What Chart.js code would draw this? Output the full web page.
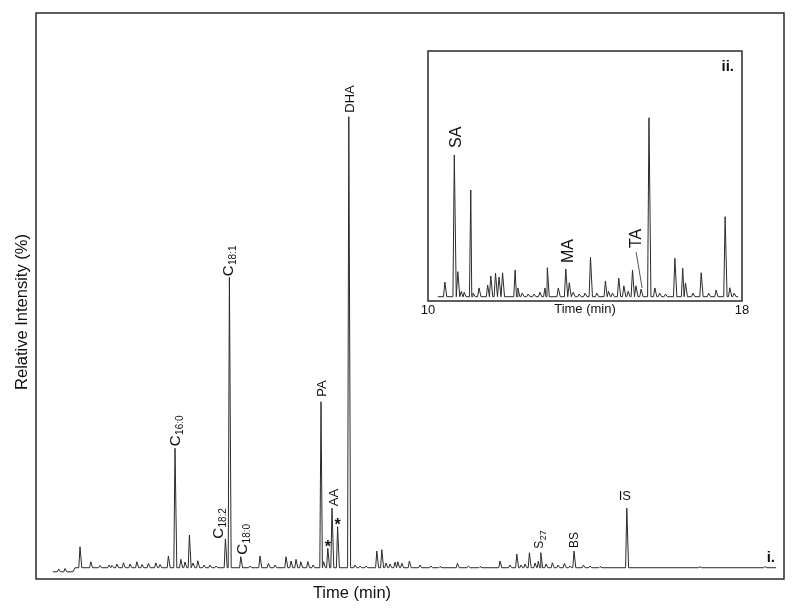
<!DOCTYPE html>
<html>
<head>
<meta charset="utf-8">
<script src="https://cdn.jsdelivr.net/npm/chart.js@4.4.0/dist/chart.umd.min.js"></script>
<style>
    html, body { margin: 0; padding: 0; background: #fff; }
    #wrap { position: relative; width: 794px; height: 609px; }
    #main { position: absolute; left: 0; top: 0; }
    #inset { position: absolute; left: 410px; top: 40px; }
</style>
</head>
<body>
<div id="wrap">
    <canvas id="main" width="794" height="609"></canvas>
    <canvas id="inset" width="350" height="280"></canvas>
</div>
<script>
// i. full chromatogram: apex retention time (min) and relative intensity (%)
const mainPeakTime = [
    1.13, 1.45, 2.2, 2.74, 3.2, 3.65, 3.8, 4.04, 4.37, 4.7,
    5.04, 5.3, 5.62, 5.99, 6.2, 6.62, 6.95, 7.24, 7.45, 7.67,
    7.85, 8.09, 8.4, 8.7, 9.0, 9.47, 9.67, 10.24, 10.7, 11.2,
    11.62, 11.95, 12.5, 12.75, 13.0, 13.24, 13.59, 13.85, 14.25, 14.38,
    14.59, 14.8, 15.08, 15.64, 15.95, 16.2, 16.5, 17.04, 17.29, 17.5,
    17.7, 17.95, 18.09, 18.29, 18.67, 19.2, 19.74, 20.2, 21.07, 21.62,
    22.2, 23.2, 23.7, 24.04, 24.25, 24.45, 24.67, 24.95, 25.12, 25.24,
    25.5, 25.82, 26.1, 26.42, 26.7, 26.9, 27.37, 27.7, 28.2, 29.54,
    33.2, 36.45
];
const mainPeakHeight = [
    -0.29, -0.18, 4.66, 1.33, 0.49, 0.6, 0.49, 0.82, 1.1, 0.82,
    1.33, 0.71, 0.98, 1.1, 0.71, 2.6, 26.5, 1.86, 1.26, 7.25,
    1.04, 1.55, 0.6, 0.6, 0.38, 6.4, 64.4, 2.44, 0.38, 2.6,
    0.98, 0.6, 2.44, 1.49, 1.86, 1.33, 1.37, 0.6, 36.8, 1.33,
    4.3, 13.2, 9.1, 100, 0.6, 0.38, 0.38, 3.7, 4.0, 1.04,
    0.82, 1.26, 1.33, 0.98, 1.49, 0.6, 0.38, 0.27, 0.98, 0.38,
    0.27, 1.49, 0.6, 3.04, 0.6, 0.82, 3.33, 1.04, 1.49, 3.33,
    0.82, 1.1, 0.6, 0.98, 0.38, 3.7, 0.6, 0.38, 0.27, 13.2,
    0.2, 0.3
];
// baseline level, valid from each time onwards
const mainBaseTime = [0.84, 1.85, 1.95, 37.0];
const mainBaseLevel = [-0.9, -0.9, 0, 0];

const mainLabelText = ['C', 'C', 'C', 'C', 'PA', 'AA', '*', '*', 'DHA', 'S', 'BS', 'IS'];
const mainLabelSub = ['16:0', '18:1', '18:2', '18:0', '', '', '', '', '', '27', '', ''];
const mainLabelTime = [6.95, 9.67, 9.47, 10.24, 14.25, 14.8, 14.59, 15.08, 15.64, 25.24, 26.9, 29.54];

// ii. inset chromatogram, 10 - 18 min
const insetPeakTime = [
    10.43, 10.67, 10.76, 10.85, 10.92, 11.09, 11.15, 11.30, 11.52, 11.60,
    11.72, 11.81, 11.90, 12.22, 12.29, 12.4, 12.55, 12.7, 12.85, 12.98,
    13.04, 13.32, 13.51, 13.60, 13.7, 13.85, 14.0, 14.14, 14.3, 14.52,
    14.6, 14.7, 14.86, 14.99, 15.1, 15.21, 15.30, 15.43, 15.63, 15.78,
    15.9, 16.05, 16.29, 16.49, 16.56, 16.75, 16.96, 17.15, 17.34, 17.57,
    17.69, 17.8
];
const insetPeakHeight = [
    8.2, 79.2, 14.0, 3, 2.5, 59.6, 2, 4.9, 6.5, 11.6,
    13.2, 11.0, 13.4, 14.9, 4.9, 2, 1.5, 1.5, 2.5, 4.9,
    16.2, 4.9, 15.5, 7.8, 2.5, 1.5, 2, 22.0, 2, 8.8,
    3, 2, 10.4, 6.1, 3, 14.9, 6.1, 4.3, 100, 4.9,
    2, 1.5, 21.5, 15.9, 7.7, 2, 13.4, 2, 3.7, 44.7,
    5.0, 2
];
const insetBaseTime = [10.25, 17.9];
const insetBaseLevel = [0, 0];

const insetLabelText = ['SA', 'MA', 'TA'];
const insetLabelTime = [10.67, 13.51, 15.43];
const insetTicks = [10, 18];

// label layout (px), same order as the label arrays
const mainLabelStyle = [
    {size: 15, sub: 10, dx: 0, gap: 2},
    {size: 15, sub: 10, dx: -2, gap: 1},
    {size: 15, sub: 10, dx: -8, gap: 0},
    {size: 15, sub: 10, dx: 1, gap: 2},
    {size: 13, dx: 0, gap: 5},
    {size: 13, dx: 1, gap: 2},
    {size: 16, dx: 0, gap: 5, star: true},
    {size: 16, dx: 0, gap: 5.5, star: true},
    {size: 13, dx: 1, gap: 4},
    {size: 12, sub: 9, dx: -1.7, gap: 4},
    {size: 12, dx: 0, gap: 3},
    {size: 13, dx: -2, gap: 8.3, flat: true},
];
const insetLabelStyle = [
    {size: 16, dx: 0.5, gap: 7},
    {size: 16, dx: 1, gap: 6},
    {size: 16, dx: -6, gap: 41, leader: true},
];

const FONT = '"Liberation Sans", Arial, Helvetica, sans-serif';
const INK = '#111';
const LINE = '#2a2a2a';

function baseAt(times, levels, t) {
    let lvl = levels[0];
    for (let i = 0; i < times.length; i++) {
        if (times[i] <= t) lvl = levels[i];
    }
    return lvl;
}

function buildTrace(peakT, peakH, baseT, baseL, wl, wr) {
    const pts = baseT.map((t, i) => ({x: t, y: baseL[i]}));
    peakT.forEach((t, i) => {
        const b = baseAt(baseT, baseL, t);
        pts.push({x: t - wl, y: b}, {x: t, y: peakH[i]}, {x: t + wr, y: b});
    });
    return pts.sort((a, b) => a.x - b.x);
}

function heightAt(peakT, peakH, t) {
    let best = 0;
    peakT.forEach((p, i) => {
        if (Math.abs(p - t) < Math.abs(peakT[best] - t)) best = i;
    });
    return peakH[best];
}

function drawLabel(ctx, px, py, text, sub, st) {
    const top = py - st.gap;
    ctx.fillStyle = INK;
    ctx.font = `${st.size}px ${FONT}`;
    if (st.star) {
        ctx.font = `bold ${st.size}px ${FONT}`;
        const m = ctx.measureText('*');
        ctx.textAlign = 'center';
        ctx.textBaseline = 'alphabetic';
        ctx.fillText('*', px + st.dx, top + (m.actualBoundingBoxAscent - m.actualBoundingBoxDescent) / 2);
        return;
    }
    if (st.flat) {
        ctx.textAlign = 'center';
        ctx.textBaseline = 'alphabetic';
        ctx.fillText(text, px + st.dx, top);
        return;
    }
    const cap = st.size * 0.72;
    ctx.save();
    ctx.translate(px + st.dx, top);
    ctx.rotate(-Math.PI / 2);
    ctx.textAlign = 'left';
    ctx.textBaseline = 'alphabetic';
    ctx.fillText(text, 0, cap / 2);
    if (sub) {
        const w = ctx.measureText(text).width;
        ctx.font = `${st.sub}px ${FONT}`;
        ctx.fillText(sub, w + 0.5, cap / 2 + 3);
    }
    ctx.restore();
    if (st.leader) {
        ctx.save();
        ctx.strokeStyle = LINE;
        ctx.lineWidth = 0.8;
        ctx.beginPath();
        ctx.moveTo(px + st.dx + 1, top + 4);
        ctx.lineTo(px + 1, py - 1);
        ctx.stroke();
        ctx.restore();
    }
}

function annotations(cfg) {
    return {
        id: 'annotations',
        afterDatasetsDraw(chart) {
            const {ctx, chartArea, scales} = chart;
            ctx.save();
            ctx.strokeStyle = LINE;
            ctx.lineWidth = 1.5;
            ctx.strokeRect(chartArea.left, chartArea.top, chartArea.right - chartArea.left, chartArea.bottom - chartArea.top);

            cfg.texts.forEach((text, i) => {
                const t = cfg.times[i];
                const h = heightAt(cfg.peakT, cfg.peakH, t);
                drawLabel(ctx, scales.x.getPixelForValue(t), scales.y.getPixelForValue(h),
                    text, cfg.subs ? cfg.subs[i] : '', cfg.styles[i]);
            });

            ctx.fillStyle = INK;
            ctx.font = `bold 15px ${FONT}`;
            ctx.textAlign = 'right';
            ctx.textBaseline = 'alphabetic';
            ctx.fillText(cfg.panel, chartArea.right - cfg.panelDx, chartArea.top + cfg.panelDy);
            if (cfg.draw) cfg.draw(chart);
            ctx.restore();
        }
    };
}

const mainTrace = buildTrace(mainPeakTime, mainPeakHeight, mainBaseTime, mainBaseLevel, 0.06, 0.09);
const insetTrace = buildTrace(insetPeakTime, insetPeakHeight, insetBaseTime, insetBaseLevel, 0.035, 0.05);

new Chart(document.getElementById('main'), {
    type: 'line',
    data: {
        datasets: [{
            data: mainTrace,
            borderColor: LINE,
            borderWidth: 1,
            pointRadius: 0,
            tension: 0,
            fill: false,
        }]
    },
    options: {
        responsive: false,
        animation: false,
        layout: {padding: {left: 36, top: 13, right: 10, bottom: 30}},
        plugins: {legend: {display: false}, tooltip: {enabled: false}},
        scales: {
            x: {type: 'linear', display: false, min: 0, max: 37.4},
            y: {type: 'linear', display: false, min: -2.5, max: 123},
        },
    },
    plugins: [annotations({
        texts: mainLabelText, subs: mainLabelSub, times: mainLabelTime, styles: mainLabelStyle,
        peakT: mainPeakTime, peakH: mainPeakHeight,
        panel: 'i.', panelDx: 9, panelDy: 562 - 579 + 566,
        draw(chart) {
            const {ctx, chartArea} = chart;
            ctx.fillStyle = INK;
            ctx.font = `16.5px ${FONT}`;
            ctx.textAlign = 'center';
            ctx.textBaseline = 'middle';
            ctx.fillText('Time (min)', chartArea.left + 316, chartArea.bottom + 14);
            ctx.save();
            ctx.translate(chartArea.left - 14, chartArea.top + 299);
            ctx.rotate(-Math.PI / 2);
            ctx.fillText('Relative Intensity (%)', 0, 0);
            ctx.restore();
        }
    })]
});

new Chart(document.getElementById('inset'), {
    type: 'line',
    data: {
        datasets: [{
            data: insetTrace,
            borderColor: LINE,
            borderWidth: 1,
            pointRadius: 0,
            tension: 0,
            fill: false,
        }]
    },
    options: {
        responsive: false,
        animation: false,
        layout: {padding: {left: 18, top: 11, right: 18, bottom: 0}},
        plugins: {legend: {display: false}, tooltip: {enabled: false}},
        scales: {
            x: {
                type: 'linear', min: insetTicks[0], max: insetTicks[1],
                grid: {display: false, drawTicks: false},
                border: {display: false},
                afterFit(scale) { scale.height = 19; },
                afterBuildTicks(scale) { scale.ticks = insetTicks.map(v => ({value: v})); },
                ticks: {
                    autoSkip: false, maxRotation: 0, padding: 2, color: INK,
                    font: {family: FONT, size: 13},
                },
            },
            y: {type: 'linear', display: false, min: -2.4, max: 137.3},
        },
    },
    plugins: [annotations({
        texts: insetLabelText, times: insetLabelTime, styles: insetLabelStyle,
        peakT: insetPeakTime, peakH: insetPeakHeight,
        panel: 'ii.', panelDx: 8, panelDy: 20,
        draw(chart) {
            const {ctx, chartArea} = chart;
            ctx.fillStyle = INK;
            ctx.font = `13px ${FONT}`;
            ctx.textAlign = 'center';
            ctx.textBaseline = 'middle';
            ctx.fillText('Time (min)', (chartArea.left + chartArea.right) / 2, chartArea.bottom + 8);
        }
    })]
});
</script>
</body>
</html>
